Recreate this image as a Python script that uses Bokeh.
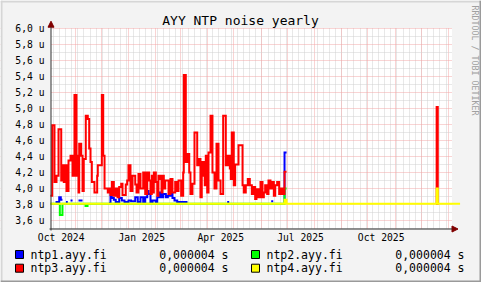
import math
import pandas as pd
from bokeh.plotting import figure
from bokeh.models import Range1d, FixedTicker, Arrow, NormalHead
from bokeh.core.properties import value
from bokeh.embed import file_html
from bokeh.resources import INLINE

FONT = "DejaVu Sans Mono"
BG = "#f3f3f3"

title_text = "AYY NTP noise yearly"
watermark_text = "RRDTOOL / TOBI OETIKER"

y_ticks = [3.6, 3.8, 4.0, 4.2, 4.4, 4.6, 4.8, 5.0, 5.2, 5.4, 5.6, 5.8, 6.0]
y_tick_labels = ["3,6 u", "3,8 u", "4,0 u", "4,2 u", "4,4 u", "4,6 u", "4,8 u",
                 "5,0 u", "5,2 u", "5,4 u", "5,6 u", "5,8 u", "6,0 u"]
y_minor = [3.5, 3.7, 3.9, 4.1, 4.3, 4.5, 4.7, 4.9, 5.1, 5.3, 5.5, 5.7, 5.9]

x_label_dates = ["2024-10-16", "2025-01-16", "2025-04-16", "2025-07-16", "2025-10-16"]
x_tick_labels = ["Oct 2024", "Jan 2025", "Apr 2025", "Jul 2025", "Oct 2025"]

names = ["ntp1.ayy.fi", "ntp2.ayy.fi", "ntp3.ayy.fi", "ntp4.ayy.fi"]
colors = ["#0000FF", "#00FF00", "#FF0000", "#FFFF00"]
legend_values = ["0,000004 s", "0,000004 s", "0,000004 s", "0,000004 s"]

# each value holds from its time until the next time (days since 2024-10-05); None = no data
T0 = "2024-10-05"

ntp1_day = [4.6, 8.8, 10.6, 12.5, 16.5, 18.6, 21.7, 24.0, 30.8, 35.4,
            65.8, 67.3, 68.8, 71.1, 73.3, 77.2, 80.2, 83.3, 87.8, 90.8,
            95.5, 98.4, 101.5, 104.6, 106.9, 109.2, 110.7, 112.9, 115.2, 119.0,
            120.6, 122.9, 125.1, 127.4, 130.4, 132.7, 135.7, 138.0, 140.3, 143.4,
            155.1, 200.4, 202.7, 250.6, 252.9, 264.6, 265.8, 268.1]
ntp1_val = [3.83, 3.89, 3.86, None, 3.83, None, 3.85, None, 3.85, None,
            3.82, 3.95, 3.88, 3.86, 3.83, 3.88, 3.85, 3.83, 3.85, 3.84,
            3.89, 3.83, 3.89, 3.83, 3.89, 3.97, 3.93, 3.83, 3.85, 3.83,
            3.89, 3.95, 3.89, 3.93, 3.89, 3.91, 3.93, 3.88, 3.85, 3.83,
            None, 3.83, None, 3.84, None, 3.84, 4.45, None]

ntp2_day = [-1.2, 9.5, 12.5, 38.8, 41.1, 265.8, 268.1]
ntp2_val = [3.81, 3.67, 3.81, 3.78, 3.81, 4.00, None]

ntp3_day = [-1.2, 0.8, 3.4, 5.7, 8.0, 11.1, 12.5, 14.0, 15.6, 17.1,
            19.4, 21.7, 24.0, 26.2, 28.5, 29.3, 30.8, 31.6, 33.9, 35.4,
            36.8, 39.1, 41.4, 43.0, 44.5, 46.0, 49.0, 52.1, 52.8, 57.4,
            59.0, 60.5, 64.2, 65.8, 67.3, 68.8, 71.1, 73.3, 75.3, 77.2,
            79.5, 81.0, 84.7, 86.3, 87.8, 90.1, 92.4, 95.5, 97.0, 99.2,
            101.5, 104.6, 106.9, 109.2, 111.4, 112.9, 114.4, 115.6, 116.7, 119.0,
            120.6, 122.0, 124.3, 125.5, 126.6, 128.1, 129.7, 133.5, 135.7, 138.0,
            141.1, 143.4, 144.9, 147.9, 150.2, 150.9, 153.2, 155.5, 157.1, 158.5,
            160.8, 163.1, 166.2, 167.7, 169.9, 171.4, 173.7, 174.8, 176.0, 177.6,
            179.1, 181.4, 183.6, 185.9, 188.2, 190.5, 192.8, 195.8, 198.8, 201.1,
            203.4, 204.5, 205.6, 207.9, 209.5, 213.3, 217.9, 219.3, 221.6, 223.9,
            226.2, 228.5, 230.1, 232.3, 233.8, 236.1, 238.4, 240.7, 242.2, 243.7,
            246.0, 247.5, 249.8, 252.1, 253.6, 255.2, 257.4, 259.7, 261.2, 263.5,
            265.8, 268.1, 438.4, 439.3, 440.6, 441.7]
ntp3_val = [3.91, 4.79, 4.08, 4.16, 4.74, 4.10, 4.29, 4.08, 4.29, 3.97,
            4.35, 4.41, 4.16, 5.17, 4.16, 4.41, 3.95, 4.56, 4.41, 3.97,
            4.37, 4.91, 4.87, 4.50, 4.33, 4.08, 3.95, 4.16, 4.29, 5.17,
            4.41, 4.00, 3.95, 4.00, 3.92, 4.08, 3.91, 4.00, 3.89, 4.02,
            4.06, 3.92, 4.05, 4.10, 4.29, 3.97, 4.16, 4.05, 3.95, 4.18,
            4.00, 4.20, 3.93, 4.20, 4.10, 3.93, 4.16, 3.95, 4.20, 4.08,
            3.91, 4.16, 4.12, 3.95, 4.16, 4.00, 4.10, 3.93, 4.12, 3.95,
            4.08, 3.97, 4.10, 3.91, 4.20, 5.42, 4.33, 4.43, 4.20, 3.93,
            4.06, 4.70, 4.29, 4.37, 3.89, 4.33, 4.16, 4.04, 4.41, 3.95,
            4.45, 4.91, 4.20, 4.00, 4.56, 4.10, 3.93, 4.91, 4.29, 4.41,
            4.25, 4.12, 4.70, 4.04, 4.30, 4.54, 4.04, 3.95, 4.04, 4.12,
            4.04, 3.93, 4.02, 3.87, 3.99, 3.89, 4.08, 3.89, 3.95, 4.04,
            3.93, 4.10, 4.00, 4.08, 3.91, 4.04, 4.08, 3.93, 4.00, 3.93,
            4.21, None, 3.81, 5.02, 3.81, None]

ntp4_day = [-1.2, 265.8, 268.1, 439.3, 440.6, 466.0]
ntp4_val = [3.81, 3.86, 3.81, 4.00, 3.81, None]

DAY = 86400000.0


def ms(t):
    return pd.Timestamp(t).value / 1e6


def step_path(days, vals):
    base = ms(T0)
    t = [base + d * DAY for d in days]
    xs, ys = [], []
    for i in range(len(vals) - 1):
        v = vals[i]
        if v is None:
            xs.append(float("nan"))
            ys.append(float("nan"))
            continue
        xs += [t[i], t[i + 1]]
        ys += [v, v]
    return xs, ys


series = [(ntp1_day, ntp1_val), (ntp2_day, ntp2_val), (ntp3_day, ntp3_val), (ntp4_day, ntp4_val)]

# The frame fills the whole canvas; the graph area is canvas x 51..451, y 28..228.
W, H = 481, 282
x0 = ms(T0)
x1 = x0 + 456.25 * DAY
Y0, Y1 = 3.5, 6.0
GL, GR, GT, GB = 51, 451, 28, 228
XPX = (x1 - x0) / (GR - GL)
YPX = (Y1 - Y0) / (GB - GT)


def cx(px):
    return x0 + (px - GL) * XPX


def cy(py):
    return Y1 - (py - GT) * YPX


p = figure(width=W, height=H, x_range=Range1d(cx(0), cx(W)), y_range=Range1d(cy(H), cy(0)),
           x_axis_type="datetime", output_backend="svg", toolbar_location=None,
           min_border=0, background_fill_color="white", border_fill_color=BG,
           outline_line_color=None)
p.title.visible = False

# grids
months = [ms(d) for d in pd.date_range("2024-10-01", "2026-02-01", freq="MS")]
mondays = [ms(d) for d in pd.date_range("2024-09-30", "2026-01-12", freq="W-MON")]
p.xgrid.ticker = FixedTicker(ticks=months, minor_ticks=mondays)
p.ygrid.ticker = FixedTicker(ticks=y_ticks, minor_ticks=y_minor)
for g in (p.xgrid, p.ygrid):
    g.grid_line_color = "#f2a8a8"
    g.grid_line_dash = "1 1"
    g.grid_line_width = 1
    g.minor_grid_line_color = "#d0d0d0"
    g.minor_grid_line_dash = "1 1"
    g.minor_grid_line_width = 1

# axes, drawn at the graph-area edges
label_ms = [ms(d) for d in x_label_dates]
p.xaxis.ticker = FixedTicker(ticks=label_ms)
p.xaxis.major_label_overrides = dict(zip(label_ms, x_tick_labels))
p.yaxis.ticker = FixedTicker(ticks=y_ticks)
p.yaxis.major_label_overrides = dict(zip(y_ticks, y_tick_labels))
p.xaxis.fixed_location = Y0
p.yaxis.fixed_location = x0
for ax in (p.xaxis, p.yaxis):
    ax.axis_line_color = None
    ax.major_tick_line_color = None
    ax.minor_tick_line_color = None
    ax.major_tick_out = 0
    ax.major_tick_in = 0
    ax.minor_tick_out = 0
    ax.minor_tick_in = 0
    ax.major_label_text_font = FONT
    ax.major_label_text_font_size = "9.7px"
    ax.major_label_text_color = "black"
p.xaxis.major_label_standoff = 3
p.yaxis.major_label_standoff = 7

# grey background outside the graph area (hides the grid there)
p.quad(left=[cx(0), cx(GR + 0.5), cx(0), cx(0)],
       right=[cx(W), cx(W), cx(GL - 0.5), cx(W)],
       bottom=[cy(GT - 0.5), cy(H), cy(H), cy(H)],
       top=[cy(0), cy(0), cy(0), cy(GB + 0.5)],
       fill_color=BG, line_color=None)

# outer 3-D frame
p.quad(left=[cx(0), cx(0), cx(W - 2), cx(0)],
       right=[cx(W), cx(2), cx(W), cx(W)],
       bottom=[cy(2), cy(H), cy(H), cy(H)],
       top=[cy(0), cy(0), cy(0), cy(H - 2)],
       fill_color=["#d6d6d6", "#d6d6d6", "#9a9a9a", "#9a9a9a"], line_color=None)

# data
for (d, v), c in zip(series, colors):
    xs, ys = step_path(d, v)
    p.line(xs, ys, line_color=c, line_width=2, line_join="miter")

# axis lines with arrows
p.add_layout(Arrow(end=NormalHead(size=6, fill_color="#800000", line_color="#800000", line_width=1),
                   x_start=cx(GL - 0.5), y_start=cy(GB + 2), x_end=cx(GL - 0.5), y_end=cy(20.7),
                   line_color="#303030", line_width=1))
p.add_layout(Arrow(end=NormalHead(size=6, fill_color="#800000", line_color="#800000", line_width=1),
                   x_start=cx(GL - 2), y_start=cy(GB + 0.5), x_end=cx(457.5), y_end=cy(GB + 0.5),
                   line_color="#303030", line_width=1))

# title and watermark
p.text(x=[cx(240)], y=[cy(19.5)], text=[title_text], text_font=value(FONT),
       text_font_size="13px", text_align="center", text_baseline="middle", text_color="black")
p.text(x=[cx(474)], y=[cy(5)], text=[watermark_text], angle=-math.pi / 2, text_font=value(FONT),
       text_font_size="8.3px", text_align="left", text_baseline="middle", text_color="#a0a0a0")

# legend
col_off = [0, 236, 0, 236]
row_y = [254, 254, 267.7, 267.7]
p.scatter([cx(19 + o) for o in col_off], [cy(r) for r in row_y], marker="square", size=8,
          fill_color=colors, line_color="black", line_width=1)
p.text([cx(30 + o) for o in col_off], [cy(r) for r in row_y], text=names, text_font=value(FONT),
       text_font_size="11.5px", text_align="left", text_baseline="middle", text_color="black")
p.text([cx(228 + o) for o in col_off], [cy(r) for r in row_y], text=legend_values,
       text_font=value(FONT), text_font_size="11.5px", text_align="right",
       text_baseline="middle", text_color="black")

open("out.html", "w").write(file_html(p, INLINE))
